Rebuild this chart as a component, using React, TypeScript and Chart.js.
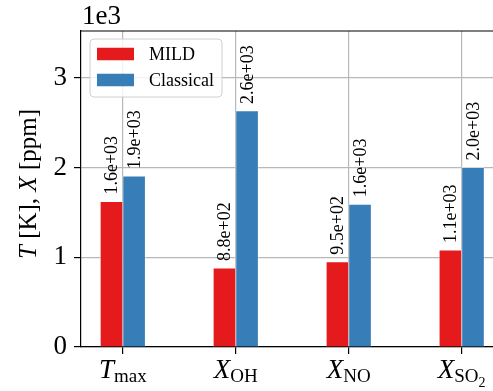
import React, { useEffect, useRef } from "react";
import { Chart, registerables } from "chart.js";
Chart.register(...registerables);

// ---- data ----
const categoryMain = ["T", "X", "X", "X"];
const categorySub = ["max", "OH", "NO", "SO"];
const categorySubSub = ["", "", "", "2"];
const seriesNames = ["MILD", "Classical"];
const mildValues = [1620, 880, 950, 1080];
const classicalValues = [1905, 2630, 1590, 2000];
const yTicks = [0, 1000, 2000, 3000];
const yTickLabels = ["0", "1", "2", "3"];
const offsetLabel = "1e3";

// ---- styling ----
const W = 530;
const H = 391;
const SERIF = "'Liberation Serif', 'Times New Roman', serif";
const RED = "#e41a1c";
const BLUE = "#377eb8";
const GRID = "#b8b8b8";
const PLOT_LEFT = 81;
const PLOT_TOP = 31;
const PLOT_BOTTOM = 347;
const PLOT_RIGHT = 503.5;

function fmtExp(v: number): string {
  return v.toExponential(1).replace(/e([+-])(\d)$/, "e$10$2");
}

const decorPlugin = {
  id: "decor",
  afterDraw(chart: any) {
    const ctx = chart.ctx as CanvasRenderingContext2D;
    const area = chart.chartArea;
    const xs = chart.scales.x;
    ctx.save();

    // top & right spines
    ctx.strokeStyle = "#000";
    ctx.lineWidth = 1.2;
    ctx.beginPath();
    ctx.moveTo(area.left, area.top);
    ctx.lineTo(area.right, area.top);
    ctx.lineTo(area.right, area.bottom);
    ctx.stroke();

    // bar value labels
    ctx.fillStyle = "#000";
    ctx.font = `18px ${SERIF}`;
    ctx.textAlign = "left";
    ctx.textBaseline = "middle";
    chart.data.datasets.forEach((ds: any, di: number) => {
      const meta = chart.getDatasetMeta(di);
      meta.data.forEach((bar: any, i: number) => {
        const v = ds.data[i].y;
        ctx.save();
        ctx.translate(bar.x, bar.y - 7);
        ctx.rotate(-Math.PI / 2);
        ctx.fillText(fmtExp(v), 0, 1);
        ctx.restore();
      });
    });

    // x tick labels with subscripts
    ctx.textBaseline = "alphabetic";
    ctx.textAlign = "left";
    const mainFont = `italic 27px ${SERIF}`;
    const subFont = `19px ${SERIF}`;
    const subSubFont = `14px ${SERIF}`;
    categoryMain.forEach((m, i) => {
      const cx = xs.getPixelForValue(i);
      ctx.font = mainFont;
      const wm = ctx.measureText(m).width;
      ctx.font = subFont;
      const ws = ctx.measureText(categorySub[i]).width;
      ctx.font = subSubFont;
      const wss = categorySubSub[i] ? ctx.measureText(categorySubSub[i]).width : 0;
      const total = wm + ws + wss;
      let x = cx - total / 2;
      const base = 378;
      ctx.font = mainFont;
      ctx.fillText(m, x, base);
      x += wm;
      ctx.font = subFont;
      ctx.fillText(categorySub[i], x, base + 4);
      x += ws;
      if (categorySubSub[i]) {
        ctx.font = subSubFont;
        ctx.fillText(categorySubSub[i], x, base + 9);
      }
    });

    // offset label
    ctx.font = `27px ${SERIF}`;
    ctx.textAlign = "left";
    ctx.textBaseline = "alphabetic";
    ctx.fillText(offsetLabel, area.left + 1, 24);

    // y axis label
    const parts: [string, boolean][] = [
      ["T", true],
      [" [K], ", false],
      ["X", true],
      [" [ppm]", false],
    ];
    const fontFor = (it: boolean) => `${it ? "italic " : ""}25px ${SERIF}`;
    let totalW = 0;
    parts.forEach(([t, it]) => {
      ctx.font = fontFor(it);
      totalW += ctx.measureText(t).width;
    });
    ctx.save();
    ctx.translate(36, 184);
    ctx.rotate(-Math.PI / 2);
    let px = -totalW / 2;
    parts.forEach(([t, it]) => {
      ctx.font = fontFor(it);
      ctx.fillText(t, px, 0);
      px += ctx.measureText(t).width;
    });
    ctx.restore();

    // legend
    const lx = 90, ly = 39, lw = 132, lh = 58, r = 4;
    ctx.beginPath();
    ctx.moveTo(lx + r, ly);
    ctx.lineTo(lx + lw - r, ly);
    ctx.arcTo(lx + lw, ly, lx + lw, ly + r, r);
    ctx.lineTo(lx + lw, ly + lh - r);
    ctx.arcTo(lx + lw, ly + lh, lx + lw - r, ly + lh, r);
    ctx.lineTo(lx + r, ly + lh);
    ctx.arcTo(lx, ly + lh, lx, ly + lh - r, r);
    ctx.lineTo(lx, ly + r);
    ctx.arcTo(lx, ly, lx + r, ly, r);
    ctx.closePath();
    ctx.fillStyle = "rgba(255,255,255,0.8)";
    ctx.fill();
    ctx.strokeStyle = "#d0d0d0";
    ctx.lineWidth = 1;
    ctx.stroke();

    const colors = [RED, BLUE];
    const rowsY = [54, 80];
    ctx.font = `18px ${SERIF}`;
    ctx.textBaseline = "middle";
    seriesNames.forEach((name, i) => {
      ctx.fillStyle = colors[i];
      ctx.fillRect(97, rowsY[i] - 6.25, 37, 12.5);
      ctx.fillStyle = "#000";
      ctx.fillText(name, 149, rowsY[i] + 1);
    });

    ctx.restore();
  },
};

export default function App() {
  const ref = useRef<HTMLCanvasElement | null>(null);
  useEffect(() => {
    if (!ref.current) return;
    const gridOpts = {
      color: GRID,
      lineWidth: 1.2,
      tickColor: "#000",
      tickLength: 7,
      tickWidth: 1.2,
      offset: false,
      drawTicks: true,
    };
    const chart = new Chart(ref.current, {
      type: "bar",
      data: {
        datasets: [
          {
            label: seriesNames[0],
            data: mildValues.map((v, i) => ({ x: i - 0.1, y: v })),
            backgroundColor: RED,
            borderColor: "rgba(255,255,255,0.45)",
            borderWidth: 0.8,
            barThickness: 22.6,
            grouped: false,
          } as any,
          {
            label: seriesNames[1],
            data: classicalValues.map((v, i) => ({ x: i + 0.1, y: v })),
            backgroundColor: BLUE,
            borderColor: "rgba(255,255,255,0.45)",
            borderWidth: 0.8,
            barThickness: 22.6,
            grouped: false,
          } as any,
        ],
      },
      options: {
        responsive: false,
        animation: false,
        devicePixelRatio: 1,
        layout: {
          padding: { left: 0, top: PLOT_TOP, right: W - PLOT_RIGHT, bottom: 0 },
        },
        plugins: { legend: { display: false }, tooltip: { enabled: false } },
        scales: {
          x: {
            type: "linear",
            min: -0.37,
            max: 3.37,
            offset: false,
            z: 1,
            grid: gridOpts,
            border: { display: true, color: "#000", width: 1.2 },
            ticks: { display: false },
            afterBuildTicks: (s: any) => {
              s.ticks = categoryMain.map((_, i) => ({ value: i }));
            },
            afterFit: (s: any) => {
              s.height = H - PLOT_BOTTOM;
            },
          },
          y: {
            type: "linear",
            min: 0,
            max: 3520,
            z: 1,
            grid: gridOpts,
            border: { display: true, color: "#000", width: 1.2 },
            ticks: {
              color: "#000",
              font: { family: SERIF, size: 27 },
              padding: 7,
              callback: (v: any) => {
                const k = yTicks.indexOf(Number(v));
                return k >= 0 ? yTickLabels[k] : "";
              },
            },
            afterBuildTicks: (s: any) => {
              s.ticks = yTicks.map((v) => ({ value: v }));
            },
            afterFit: (s: any) => {
              s.width = PLOT_LEFT;
            },
          },
        },
      } as any,
      plugins: [decorPlugin],
    });
    return () => chart.destroy();
  }, []);
  return (
    <div
      style={{
        position: "fixed",
        left: 0,
        top: 0,
        width: 493,
        height: H,
        overflow: "hidden",
        background: "#fff",
      }}
    >
      <canvas ref={ref} width={W} height={H} style={{ width: W, height: H, display: "block" }} />
    </div>
  );
}
